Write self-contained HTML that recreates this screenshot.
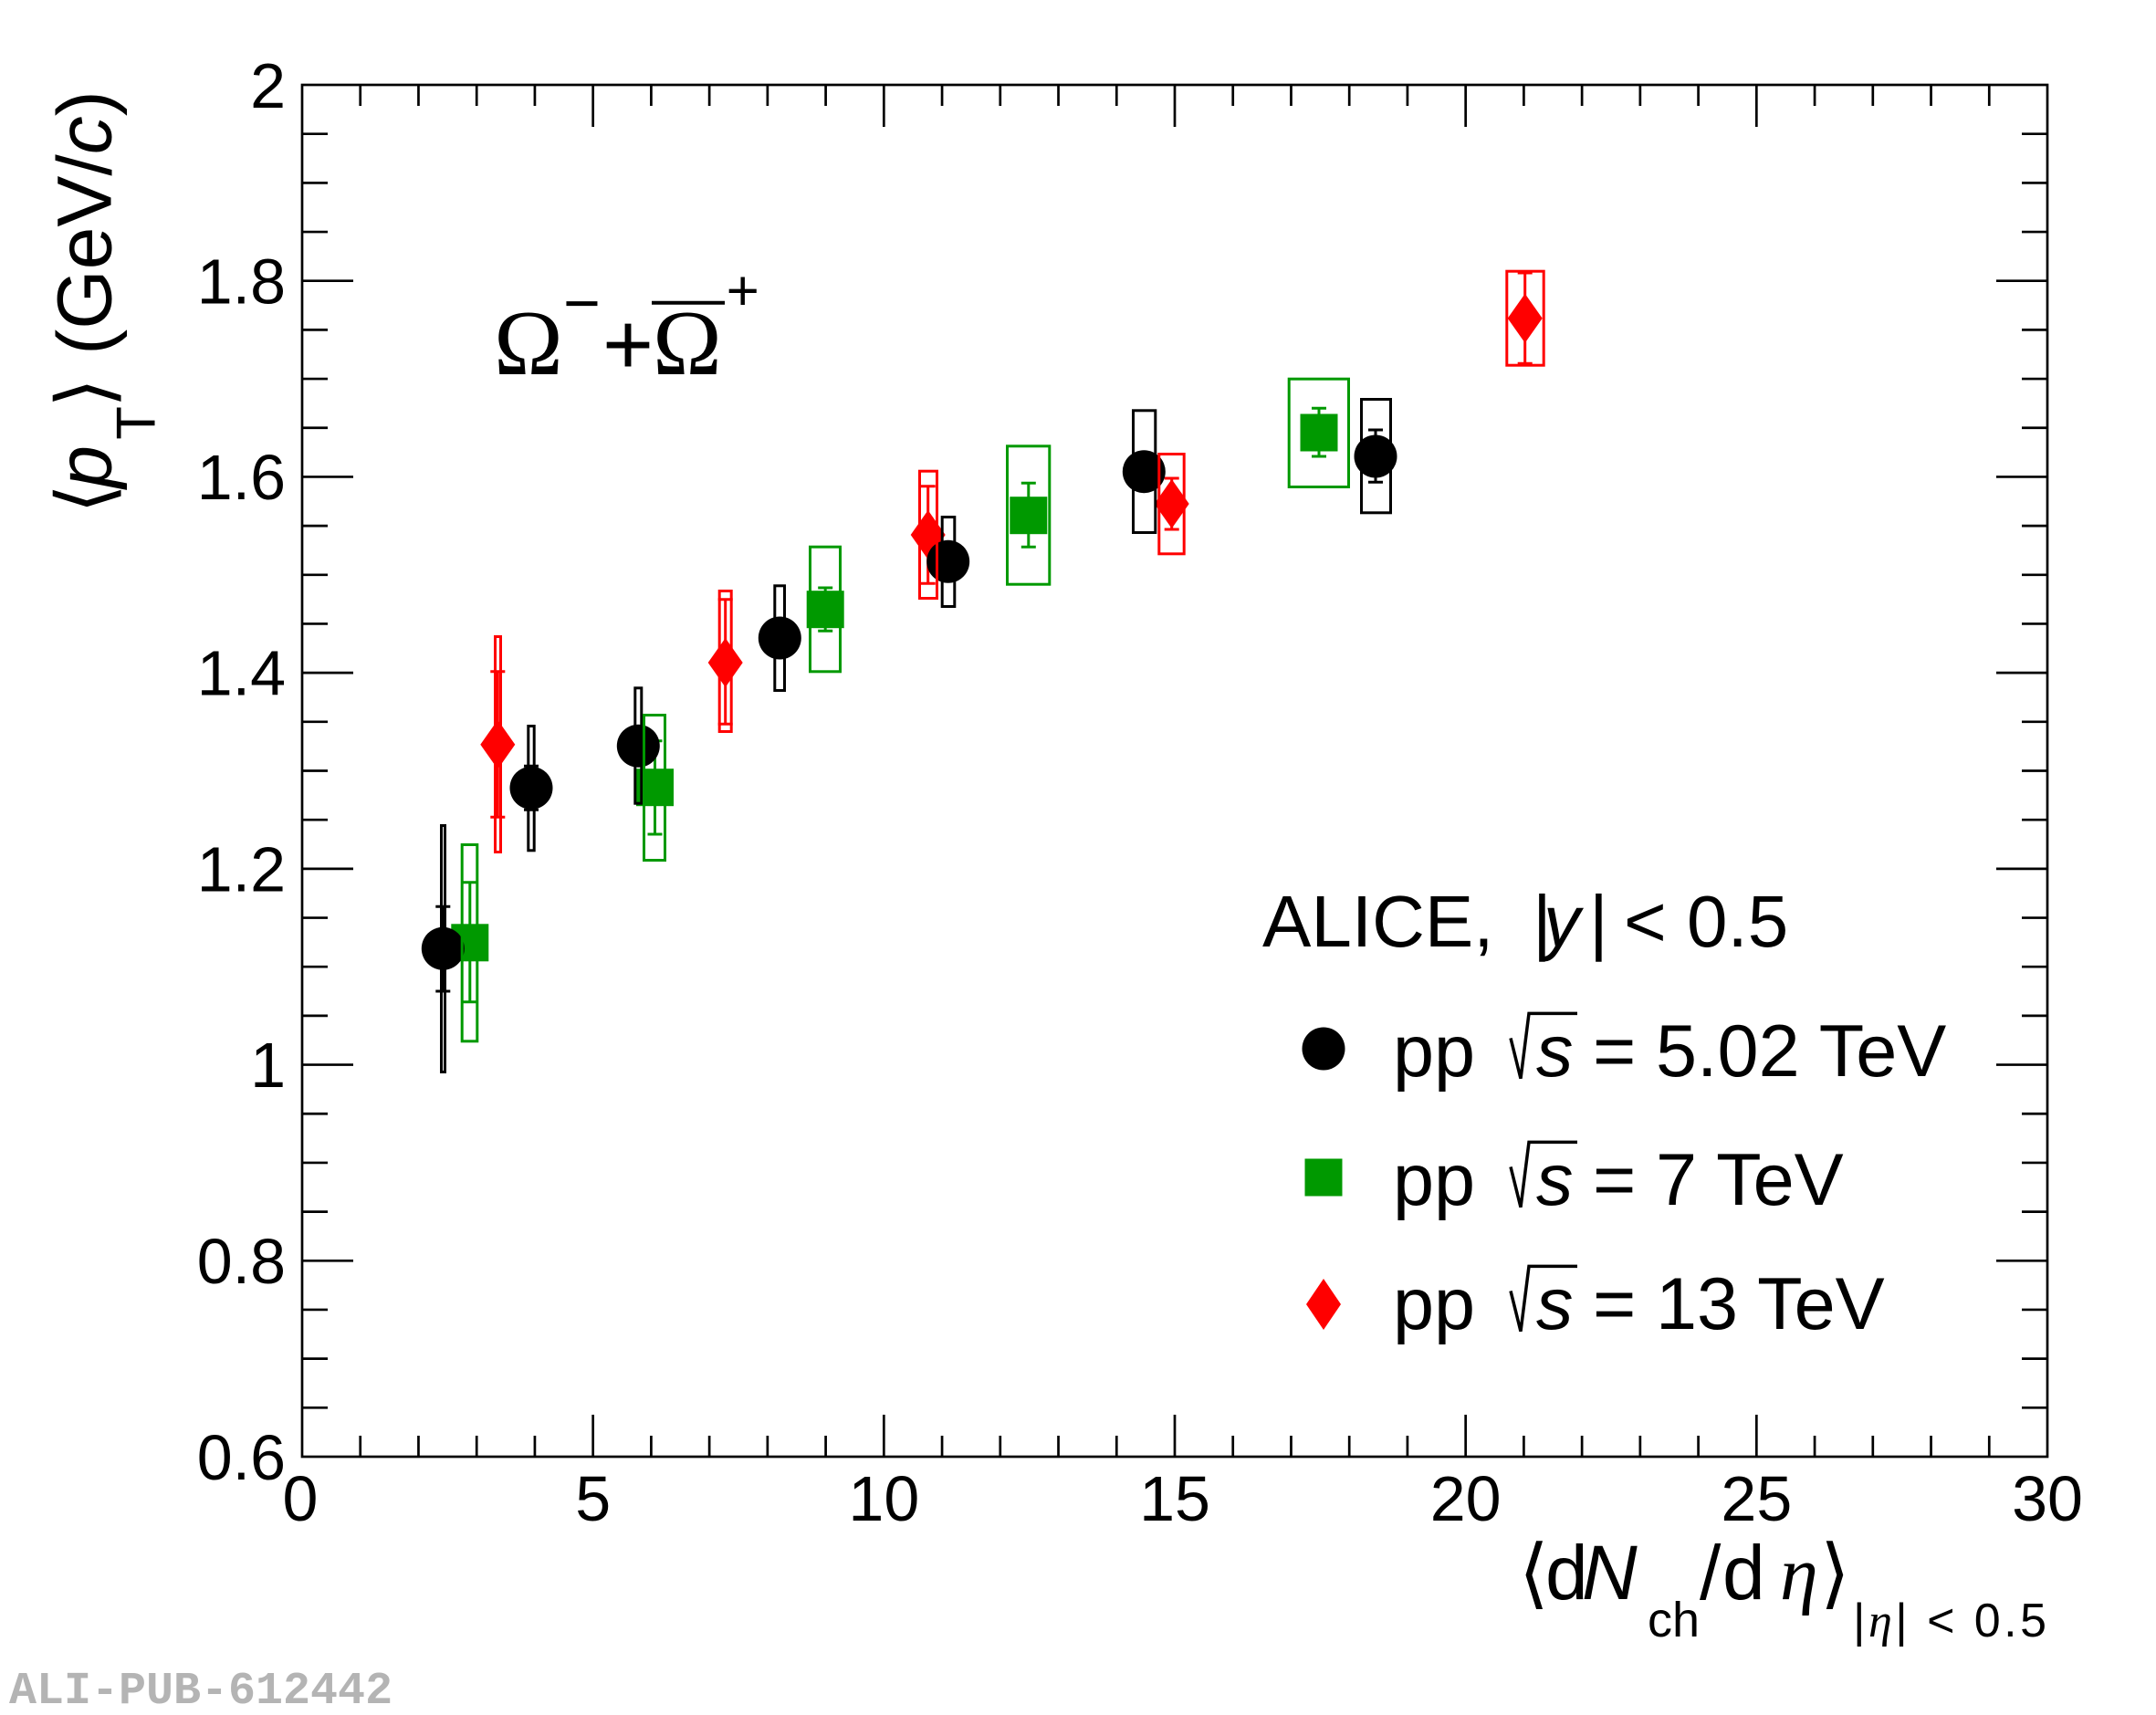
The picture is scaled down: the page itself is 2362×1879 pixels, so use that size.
<!DOCTYPE html>
<html>
<head>
<meta charset="utf-8">
<style>
html,body{margin:0;padding:0;background:#fff;}
svg{display:block;}
</style>
</head>
<body>
<svg xmlns="http://www.w3.org/2000/svg" width="2362" height="1879" viewBox="0 0 2362 1879">
<rect x="0" y="0" width="2362" height="1879" fill="#fff"/>

<!-- ticks -->
<g stroke="#000" stroke-width="2.7" fill="none">
<path d="M394.73 1596V1573M458.47 1596V1573M522.2 1596V1573M585.93 1596V1573M713.4 1596V1573M777.13 1596V1573M840.87 1596V1573M904.6 1596V1573M1032.07 1596V1573M1095.8 1596V1573M1159.53 1596V1573M1223.27 1596V1573M1350.73 1596V1573M1414.47 1596V1573M1478.2 1596V1573M1541.93 1596V1573M1669.4 1596V1573M1733.13 1596V1573M1796.87 1596V1573M1860.6 1596V1573M1988.07 1596V1573M2051.8 1596V1573M2115.53 1596V1573M2179.27 1596V1573"/>
<path d="M649.67 1596V1550M968.33 1596V1550M1287 1596V1550M1605.67 1596V1550M1924.33 1596V1550"/>
<path d="M394.73 93V116M458.47 93V116M522.2 93V116M585.93 93V116M713.4 93V116M777.13 93V116M840.87 93V116M904.6 93V116M1032.07 93V116M1095.8 93V116M1159.53 93V116M1223.27 93V116M1350.73 93V116M1414.47 93V116M1478.2 93V116M1541.93 93V116M1669.4 93V116M1733.13 93V116M1796.87 93V116M1860.6 93V116M1988.07 93V116M2051.8 93V116M2115.53 93V116M2179.27 93V116"/>
<path d="M649.67 93V139M968.33 93V139M1287 93V139M1605.67 93V139M1924.33 93V139"/>
<path d="M331 146.68H359M331 200.36H359M331 254.04H359M331 361.39H359M331 415.07H359M331 468.75H359M331 576.11H359M331 629.79H359M331 683.46H359M331 790.82H359M331 844.5H359M331 898.18H359M331 1005.54H359M331 1059.21H359M331 1112.89H359M331 1220.25H359M331 1273.93H359M331 1327.61H359M331 1434.96H359M331 1488.64H359M331 1542.32H359"/>
<path d="M331 307.71H387M331 522.43H387M331 737.14H387M331 951.86H387M331 1166.57H387M331 1381.29H387"/>
<path d="M2243 146.68H2215M2243 200.36H2215M2243 254.04H2215M2243 361.39H2215M2243 415.07H2215M2243 468.75H2215M2243 576.11H2215M2243 629.79H2215M2243 683.46H2215M2243 790.82H2215M2243 844.5H2215M2243 898.18H2215M2243 1005.54H2215M2243 1059.21H2215M2243 1112.89H2215M2243 1220.25H2215M2243 1273.93H2215M2243 1327.61H2215M2243 1434.96H2215M2243 1488.64H2215M2243 1542.32H2215"/>
<path d="M2243 307.71H2187M2243 522.43H2187M2243 737.14H2187M2243 951.86H2187M2243 1166.57H2187M2243 1381.29H2187"/>
</g>

<!-- frame -->
<rect x="331" y="93" width="1912" height="1503" fill="none" stroke="#000" stroke-width="2.7"/>

<!-- y tick labels -->
<g font-family="Liberation Sans, Arial, sans-serif" font-size="70" fill="#000" text-anchor="end">
<text x="313" y="118">2</text>
<text x="313" y="332.5">1.8</text>
<text x="313" y="547">1.6</text>
<text x="313" y="761.5">1.4</text>
<text x="313" y="976.5">1.2</text>
<text x="313" y="1191">1</text>
<text x="313" y="1406">0.8</text>
<text x="313" y="1621">0.6</text>
</g>
<!-- x tick labels -->
<g font-family="Liberation Sans, Arial, sans-serif" font-size="70" fill="#000" text-anchor="middle">
<text x="329" y="1666">0</text>
<text x="649.67" y="1666">5</text>
<text x="968.33" y="1666">10</text>
<text x="1287" y="1666">15</text>
<text x="1605.67" y="1666">20</text>
<text x="1924.33" y="1666">25</text>
<text x="2243" y="1666">30</text>
</g>

<!-- y axis title -->
<text transform="translate(121.7,556.7) rotate(-90)" font-family="Liberation Sans, Arial, sans-serif" font-size="84" fill="#000"><tspan x="-6" font-family="DejaVu Sans, sans-serif">⟨</tspan><tspan x="22" font-style="italic">p</tspan><tspan x="75" dy="48" font-size="60">T</tspan><tspan x="110" dy="-48" font-family="DejaVu Sans, sans-serif">⟩</tspan><tspan x="168">(GeV/</tspan><tspan font-style="italic">c</tspan><tspan>)</tspan></text>

<!-- x axis title -->
<text y="1752" font-family="Liberation Sans, Arial, sans-serif" font-size="84" fill="#000"><tspan x="1664" font-family="DejaVu Sans, sans-serif">⟨</tspan><tspan x="1693">d</tspan><tspan x="1733" font-style="italic">N</tspan><tspan x="1805" y="1793" font-size="54">ch</tspan><tspan x="1862" y="1752">/</tspan><tspan x="1887">d</tspan><tspan x="1950" font-family="Liberation Serif, serif" font-style="italic">η</tspan><tspan x="1994" font-family="DejaVu Sans, sans-serif">⟩</tspan></text>
<text x="2030" y="1793" font-family="Liberation Sans, Arial, sans-serif" font-size="52" fill="#000" textLength="212" lengthAdjust="spacing">|<tspan font-family="Liberation Serif, serif" font-style="italic">η</tspan>| &lt; 0.5</text>

<!-- Omega label -->
<g fill="#000">
<text x="541" y="410" font-family="Liberation Serif, serif" font-size="102">Ω</text>
<text x="617" y="356" font-family="Liberation Sans, Arial, sans-serif" font-size="70">−</text>
<text x="660" y="410" font-family="Liberation Sans, Arial, sans-serif" font-size="96">+</text>
<text x="715" y="410" font-family="Liberation Serif, serif" font-size="102">Ω</text>
<text x="795.6" y="339.3" font-family="Liberation Sans, Arial, sans-serif" font-size="62">+</text>
</g>
<line x1="714" y1="331.7" x2="794" y2="331.7" stroke="#000" stroke-width="4"/>

<!-- ===== Data: stat bars + markers ===== -->
<!-- green 7 TeV -->
<g stroke="#009900" stroke-width="3" fill="none">
<path d="M514.8 966.7V1097.7M506.8 966.7H522.8M506.8 1097.7H522.8"/>
<path d="M717.5 811.7V914M709.5 811.7H725.5M709.5 914H725.5"/>
<path d="M904.2 644V691.3M896.2 644H912.2M896.2 691.3H912.2"/>
<path d="M1126.8 529.3V599.3M1118.8 529.3H1134.8M1118.8 599.3H1134.8"/>
<path d="M1445 447.3V500M1437 447.3H1453M1437 500H1453"/>
</g>
<g fill="#009900">
<rect x="494.3" y="1012.3" width="41" height="41"/>
<rect x="697" y="842.2" width="41" height="41"/>
<rect x="883.7" y="647.2" width="41" height="41"/>
<rect x="1106.3" y="544.2" width="41" height="41"/>
<rect x="1424.5" y="453.5" width="41" height="41"/>
</g>

<!-- red 13 TeV -->
<g stroke="#ff0000" stroke-width="3" fill="none">
<path d="M545.3 735.7V895.3M537.3 735.7H553.3M537.3 895.3H553.3"/>
<path d="M794.7 656.7V793.3M786.7 656.7H802.7M786.7 793.3H802.7"/>
<path d="M1016.7 532.7V639.3M1008.7 532.7H1024.7M1008.7 639.3H1024.7"/>
<path d="M1283.7 524V580M1275.7 524H1291.7M1275.7 580H1291.7"/>
<path d="M1670.7 299V398.3M1662.7 299H1678.7M1662.7 398.3H1678.7"/>
</g>
<g fill="#ff0000">
<polygon points="545.3,788.7 564.3,815.7 545.3,842.7 526.3,815.7"/>
<polygon points="794.7,699 813.7,726 794.7,753 775.7,726"/>
<polygon points="1016.7,559 1035.7,586 1016.7,613 997.7,586"/>
<polygon points="1283.7,525 1302.7,552 1283.7,579 1264.7,552"/>
<polygon points="1670.7,321.7 1689.7,348.7 1670.7,375.7 1651.7,348.7"/>
</g>

<!-- black 5.02 TeV -->
<g stroke="#000" stroke-width="3" fill="none">
<path d="M485.3 993.3V1086M477.3 993.3H493.3M477.3 1086H493.3"/>
<path d="M582 839.3V887.3M574 839.3H590M574 887.3H590"/>
<path d="M1507 471V528.3M1499 471H1515M1499 528.3H1515"/>
</g>
<g fill="#000">
<circle cx="485.3" cy="1039.3" r="23.5"/>
<circle cx="582" cy="863.3" r="23.5"/>
<circle cx="699.3" cy="817.3" r="23.5"/>
<circle cx="854.3" cy="699" r="23.5"/>
<circle cx="1038.7" cy="615.3" r="23.5"/>
<circle cx="1253.3" cy="516.7" r="23.5"/>
<circle cx="1507" cy="500" r="23.5"/>
</g>

<!-- ===== systematic boxes ===== -->
<g stroke="#000" stroke-width="3" fill="none">
<rect x="483.5" y="904.5" width="4" height="270"/>
<rect x="578.8" y="795.5" width="6.4" height="136.3"/>
<rect x="695.8" y="753.8" width="7" height="126.4"/>
<rect x="848.8" y="641.8" width="10.7" height="114.7"/>
<rect x="1032.2" y="566.5" width="13.6" height="98"/>
<rect x="1241.5" y="449.8" width="24.3" height="133.7"/>
<rect x="1491.5" y="437.5" width="32" height="124.3"/>
</g>
<g stroke="#009900" stroke-width="3" fill="none">
<rect x="506.2" y="925.5" width="16.6" height="215.3"/>
<rect x="705.5" y="783.5" width="23" height="159"/>
<rect x="887.5" y="599.2" width="33" height="136.6"/>
<rect x="1103.5" y="488.8" width="46.3" height="151.4"/>
<rect x="1412.2" y="415.2" width="65.3" height="118.3"/>
</g>
<g stroke="#ff0000" stroke-width="3" fill="none">
<rect x="542.5" y="697.5" width="6" height="236"/>
<rect x="788.2" y="647.5" width="13" height="154"/>
<rect x="1007.5" y="516.2" width="19" height="139.3"/>
<rect x="1269.8" y="497.5" width="27.4" height="109.3"/>
<rect x="1650.8" y="297.2" width="40.4" height="103"/>
</g>

<!-- ===== Legend ===== -->
<text y="1037" font-family="Liberation Sans, Arial, sans-serif" font-size="80" fill="#000"><tspan x="1383">ALICE,</tspan><tspan x="1679">|</tspan><tspan x="1691" font-style="italic">y</tspan><tspan x="1741">|</tspan><tspan x="1779">&lt;</tspan><tspan x="1848">0.5</tspan></text>

<circle cx="1450" cy="1149" r="23.5" fill="#000"/>
<rect x="1429.5" y="1269.5" width="41" height="41" fill="#009900"/>
<polygon points="1450,1401 1469,1429 1450,1457 1431,1429" fill="#ff0000"/>

<g font-family="Liberation Sans, Arial, sans-serif" font-size="81" fill="#000">
<text y="1179"><tspan x="1526">pp</tspan><tspan x="1683" font-style="italic">s</tspan><tspan x="1745">=</tspan><tspan x="1814">5.02 TeV</tspan></text>
<text y="1320"><tspan x="1526">pp</tspan><tspan x="1683" font-style="italic">s</tspan><tspan x="1745">=</tspan><tspan x="1814">7 TeV</tspan></text>
<text y="1456"><tspan x="1526">pp</tspan><tspan x="1683" font-style="italic">s</tspan><tspan x="1745">=</tspan><tspan x="1814">13 TeV</tspan></text>
</g>
<g stroke="#000" stroke-width="3.5" fill="none" stroke-linejoin="miter">
<polyline points="1655,1137.4 1666,1181.7 1675,1110.4 1728,1110.4"/>
<polyline points="1655,1278.4 1666,1322.7 1675,1251.4 1728,1251.4"/>
<polyline points="1655,1414.4 1666,1458.7 1675,1387.4 1728,1387.4"/>
</g>

<!-- watermark -->
<text x="10" y="1866" font-family="Liberation Mono, Courier New, monospace" font-weight="bold" font-size="50" fill="#b4b4b4">ALI-PUB-612442</text>
</svg>
</body>
</html>
